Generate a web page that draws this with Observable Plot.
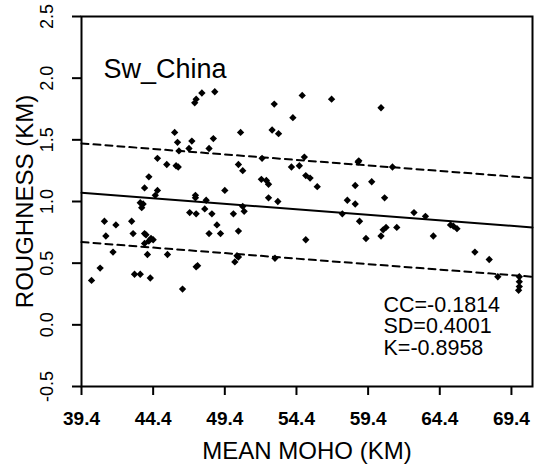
<!DOCTYPE html>
<html>
<head>
<meta charset="utf-8">
<script src="https://cdn.jsdelivr.net/npm/d3@7"></script>
<script src="https://cdn.jsdelivr.net/npm/@observablehq/plot@0.6"></script>
<style>
  html, body { margin: 0; padding: 0; background: #fff; }
  #chart svg g[aria-label="x-axis tick label"] { font-weight: bold; font-size: 19px; }
  #chart svg g[aria-label="y-axis tick label"] { font-size: 18px; }
  #chart svg g[aria-label="x-axis label"], #chart svg g[aria-label="y-axis label"] { font-size: 24px; }
  #chart svg g[aria-label="stats"] { letter-spacing: 1.4px; }
  #chart svg g[aria-label="region"] { letter-spacing: 0.6px; }
</style>
</head>
<body>
<div id="chart"></div>
<script>
// Mean Moho depth (km) and roughness (km) for each station
const moho = [
  40.1, 40.7, 41.0, 41.1, 41.6, 41.8, 42.9, 43.0, 43.1, 43.5,
  44.2, 43.8, 43.9, 44.25, 44.4, 44.1, 44.0, 43.8, 43.5, 43.7,
  43.6, 43.8, 44.1, 44.7, 44.55, 44.7, 45.35, 46.0, 46.15, 45.4,
  45.9, 46.1, 46.2, 46.9, 47.1, 47.3, 47.4, 47.8, 48.7, 46.45,
  47.35, 47.35, 46.95, 47.4, 47.5, 47.4, 48.1, 48.0, 48.5, 48.85,
  48.3, 49.1, 48.6, 48.3, 49.4, 50.0, 50.35, 50.75, 50.65, 50.5,
  50.35, 50.65, 50.25, 50.1, 50.35, 52.0, 51.95, 52.3, 52.45, 52.45,
  53.1, 52.9, 52.7, 53.15, 52.85, 54.15, 54.8, 54.05, 54.6, 54.95,
  55.05, 55.35, 55.05, 56.85, 60.3, 55.85, 58.75, 58.7, 61.1, 58.5,
  59.65, 57.95, 58.5, 60.55, 57.6, 58.8, 59.25, 60.3, 60.45, 60.65,
  61.4, 62.6, 63.4, 63.95, 65.15, 65.35, 65.6, 66.85, 67.85, 68.45,
  69.95, 69.95, 69.95, 69.9
];
const roughness = [
  0.36, 0.46, 0.84, 0.72, 0.59, 0.81, 0.84, 0.74, 0.41, 0.41,
  0.38, 0.74, 0.73, 0.70, 0.69, 0.68, 0.57, 0.66, 0.99, 0.98,
  0.95, 1.11, 1.20, 1.09, 1.05, 1.35, 1.30, 1.29, 1.28, 0.57,
  1.56, 1.48, 1.41, 1.43, 1.49, 1.80, 1.83, 1.88, 1.89, 0.29,
  1.03, 1.05, 0.91, 0.90, 0.48, 0.47, 1.01, 0.94, 0.90, 0.81,
  0.74, 0.74, 1.51, 1.43, 1.09, 0.90, 0.76, 0.92, 0.96, 1.56,
  1.30, 1.25, 0.56, 0.51, 0.55, 1.35, 1.18, 1.17, 1.14, 1.03,
  1.00, 0.54, 1.58, 1.55, 1.79, 1.68, 1.86, 1.28, 1.29, 1.36,
  1.21, 1.19, 0.69, 1.83, 1.76, 1.12, 1.33, 1.32, 1.28, 1.13,
  1.16, 1.01, 0.98, 1.03, 0.90, 0.84, 0.70, 0.72, 0.77, 0.79,
  0.79, 0.91, 0.88, 0.72, 0.81, 0.80, 0.78, 0.59, 0.53, 0.39,
  0.39, 0.35, 0.31, 0.28
];

// Regression line and +/- SD band (end points across the frame)
const lineX = [39.4, 70.87];
const fitY = [1.071, 0.790];
const upperY = [1.471, 1.190];
const lowerY = [0.671, 0.390];

// Axis ticks
const xTicks = [39.4, 44.4, 49.4, 54.4, 59.4, 64.4, 69.4];
const xTickLabels = ["39.4", "44.4", "49.4", "54.4", "59.4", "64.4", "69.4"];
const yTicks = [-0.5, 0.0, 0.5, 1.0, 1.5, 2.0, 2.5];
const yTickLabels = ["-0.5", "0.0", "0.5", "1.0", "1.5", "2.0", "2.5"];

// Texts
const regionName = "Sw_China";
const statNames = ["CC", "SD", "K"];
const statValues = ["-0.1814", "0.4001", "-0.8958"];
const xLabel = "MEAN MOHO (KM)";
const yLabel = "ROUGHNESS (KM)";

const points = moho.map((m, i) => ({moho: m, roughness: roughness[i]}));
const lineData = (ys) => lineX.map((x, i) => ({x, y: ys[i]}));
const statLines = statNames.map((n, i) => ({line: i, text: `${n}=${statValues[i]}`}));

const chart = Plot.plot({
  width: 535,
  height: 466,
  marginLeft: 81,
  marginRight: 3,
  marginTop: 16,
  marginBottom: 80,
  style: {fontFamily: '"Liberation Sans", Arial, Helvetica, sans-serif', fontSize: "17px", color: "#000", background: "#fff"},
  x: {domain: [39.4, 70.87]},
  y: {domain: [-0.5, 2.5]},
  marks: [
    Plot.frame({stroke: "#000", strokeWidth: 2}),
    Plot.axisX(xTicks, {
      tickSize: 9, tickPadding: 16, strokeWidth: 2,
      tickFormat: (d) => xTickLabels[xTicks.indexOf(d)],
      label: xLabel, labelAnchor: "center", labelArrow: "none", labelOffset: 72
    }),
    Plot.axisY(yTicks, {
      tickSize: 9, tickPadding: 20, strokeWidth: 2, tickRotate: -90,
      tickFormat: (d) => yTickLabels[yTicks.indexOf(d)],
      label: yLabel, labelAnchor: "center", labelArrow: "none", labelOffset: 66
    }),
    Plot.line(lineData(fitY), {x: "x", y: "y", stroke: "#000", strokeWidth: 2}),
    Plot.line(lineData(upperY), {x: "x", y: "y", stroke: "#000", strokeWidth: 2, strokeDasharray: "7,5"}),
    Plot.line(lineData(lowerY), {x: "x", y: "y", stroke: "#000", strokeWidth: 2, strokeDasharray: "7,5"}),
    Plot.dot(points, {x: "moho", y: "roughness", symbol: "diamond2", r: 3.3, fill: "#000", stroke: "none"}),
    Plot.text([regionName], {ariaLabel: "region", frameAnchor: "top-left", dx: 22, dy: 42, lineAnchor: "top", textAnchor: "start", fontSize: 27}),
    ...statLines.map((s) => Plot.text([s.text], {ariaLabel: "stats", frameAnchor: "top-left", dx: 302, dy: 280 + 21.7 * s.line, lineAnchor: "top", textAnchor: "start", fontSize: 21.5}))
  ]
});
document.getElementById("chart").appendChild(chart);
</script>
</body>
</html>
